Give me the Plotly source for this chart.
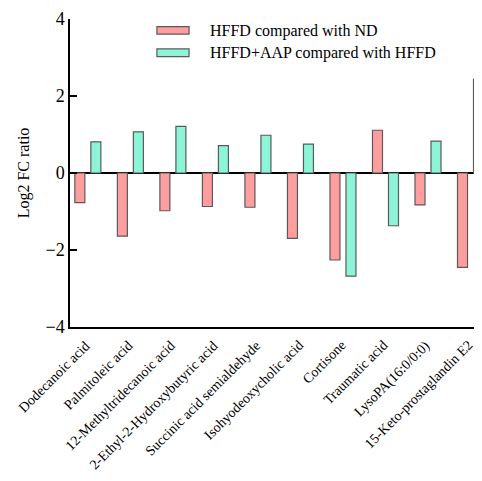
import plotly.graph_objects as go

categories = ["Dodecanoic acid", "Palmitoleic acid", "12-Methyltridecanoic acid",
              "2-Ethyl-2-Hydroxybutyric acid", "Succinic acid semialdehyde",
              "Isohyodeoxycholic acid", "Cortisone", "Traumatic acid",
              "LysoPA(16:0/0:0)", "15-Keto-prostaglandin E2"]
hffd_vs_nd = [-0.77, -1.64, -0.98, -0.87, -0.89, -1.70, -2.26, 1.11, -0.83, -2.45]
aap_vs_hffd = [0.81, 1.07, 1.21, 0.71, 0.98, 0.75, -2.68, -1.37, 0.83, 2.43]
series_names = ["HFFD compared with ND", "HFFD+AAP compared with HFFD"]
y_ticks = [-4, -2, 0, 2, 4]

RED = "#FF9E9E"
TEAL = "#8CF5D8"
EDGE = "#5a5a5a"
FONT = "Liberation Serif, Times New Roman, serif"

fig = go.Figure()
fig.add_trace(go.Bar(x=categories, y=hffd_vs_nd, name=series_names[0],
                     marker=dict(color=RED, line=dict(color=EDGE, width=1.2)),
                     showlegend=False))
fig.add_trace(go.Bar(x=categories, y=aap_vs_hffd, name=series_names[1],
                     marker=dict(color=TEAL, line=dict(color=EDGE, width=1.2)),
                     showlegend=False))

# manual legend
swatches = [(RED, 0.975, 0.951, 0.961), (TEAL, 0.903, 0.878, 0.890)]
for (col, y1, y0, yt), name in zip(swatches, series_names):
    fig.add_shape(type="rect", xref="paper", yref="paper", x0=0.211, x1=0.289,
                  y0=y0, y1=y1, fillcolor=col, line=dict(color=EDGE, width=1.2))
    fig.add_annotation(xref="paper", yref="paper", x=0.335, y=yt, text=name,
                       showarrow=False, xanchor="left", yanchor="middle",
                       font=dict(family=FONT, size=16, color="black"))

# category labels, rotated
for cat in categories:
    fig.add_annotation(xref="x", yref="paper", x=cat, y=0, text=cat,
                       textangle=-45, showarrow=False, xanchor="right", yanchor="top",
                       xshift=8, yshift=-8,
                       font=dict(family=FONT, size=14, color="black"))

# page body has an 8px default margin: figure coordinates are offset accordingly
fig.update_layout(
    width=474, height=465,
    margin=dict(l=62, r=0, t=11, b=146),
    paper_bgcolor="white", plot_bgcolor="white",
    barmode="group", bargap=0.247, bargroupgap=0.375,
    font=dict(family=FONT, color="black"),
)
fig.update_xaxes(range=[-0.42, 9.27], showline=True, linecolor="black", linewidth=1.5,
                 showgrid=False, ticks="", showticklabels=False, automargin=False)
fig.update_yaxes(range=[-4, 4], tickvals=y_ticks, showline=True, linecolor="black",
                 linewidth=1.5, showgrid=False, ticks="inside", ticklen=7,
                 tickwidth=1.5, tickcolor="black", automargin=False,
                 zeroline=True, zerolinecolor="black", zerolinewidth=1.5,
                 tickfont=dict(family=FONT, size=18, color="black"),
                 title=dict(text="Log2 FC ratio", font=dict(family=FONT, size=16, color="black"),
                            standoff=12))

fig.write_html("out.html")
